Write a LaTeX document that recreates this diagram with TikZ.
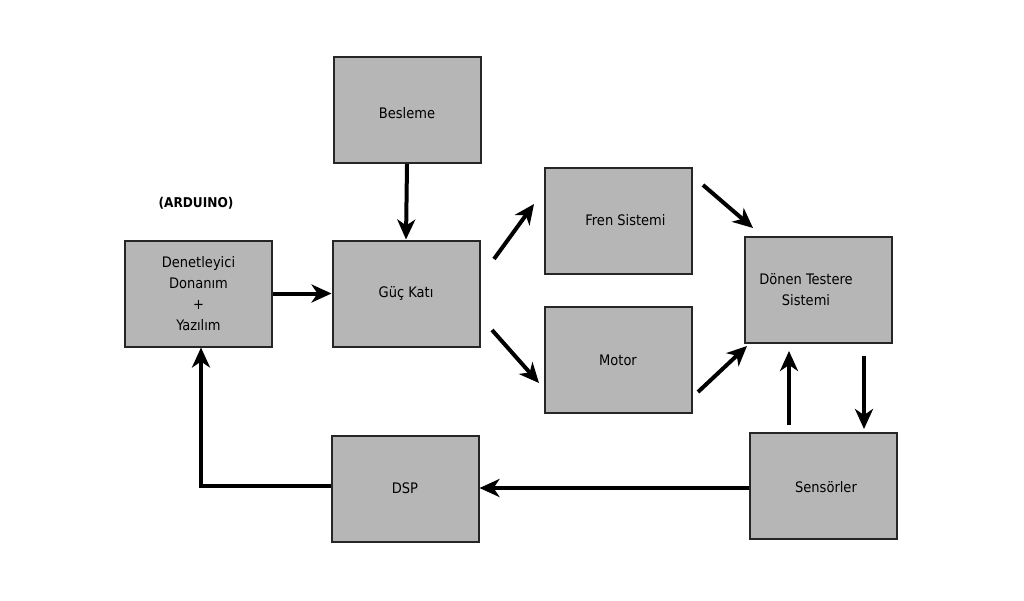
\documentclass[tikz,border=0pt]{standalone}
\usepackage{fontspec}
\setmainfont{DejaVu Sans Condensed}
\usetikzlibrary{arrows.meta}
\begin{document}
\begin{tikzpicture}[x=1pt,y=-1pt,
  blk/.style={draw=black!85,line width=2pt,fill=gray!50!white!95!black,minimum width=147pt,minimum height=106pt,inner sep=0pt,font=\fontsize{14.5}{21}\selectfont,align=center},
  arr/.style={line width=4pt,-{Stealth[length=20pt,width=18pt,inset=6pt]}},
  ]
\useasboundingbox (0,0) rectangle (1024,600);
\node[blk] (bes) at (407,110) {\raisebox{-8pt}[0pt][0pt]{Besleme}};
\node[blk] (guc) at (406,293.5) {Güç Katı};
\node[blk] (den) at (198.5,293.5) {Denetleyici\\Donanım\\+\\Yazılım};
\node[blk] (fren) at (618.5,220.5) {\hspace*{14pt}Fren Sistemi};
\node[blk] (mot) at (618,360) {Motor};
\node[blk] (don) at (818,290) {\hspace*{-24pt}Dönen Testere\\\hspace*{-24pt}Sistemi};
\node[blk] (sen) at (823,485.5) {\hspace*{6pt}\raisebox{-7pt}[0pt][0pt]{Sensörler}};
\node[blk] (dsp) at (405,488.5) {DSP};
\node[font=\fontsize{13.5}{15}\selectfont\bfseries] (ard) at (196,203) {(ARDUINO)};
\coordinate (g1) at (494,259);
\coordinate (f1) at (534,204);
\coordinate (g2) at (492,330);
\coordinate (m1) at (539,383);
\coordinate (f2) at (703,185);
\coordinate (d1) at (753,228);
\coordinate (m2) at (698,392);
\coordinate (d2) at (747,346);
\coordinate (s1) at (789,425);
\coordinate (d3) at (789,351);
\coordinate (d4) at (864,356);
\coordinate (s2) at (864,429);
\coordinate (corner) at (201,486);
\draw[arr] (bes.south) -- (guc.north);
\draw[arr] (den.east) -- (guc.west);
\draw[arr] (g1) -- (f1);
\draw[arr] (g2) -- (m1);
\draw[arr] (f2) -- (d1);
\draw[arr] (m2) -- (d2);
\draw[arr] (s1) -- (d3);
\draw[arr] (d4) -- (s2);
\draw[arr] (sen.west |- 0,488) -- (dsp.east |- 0,488);
\draw[arr] (dsp.west |- corner) -- (corner) -- (corner |- den.south);
\end{tikzpicture}
\end{document}
